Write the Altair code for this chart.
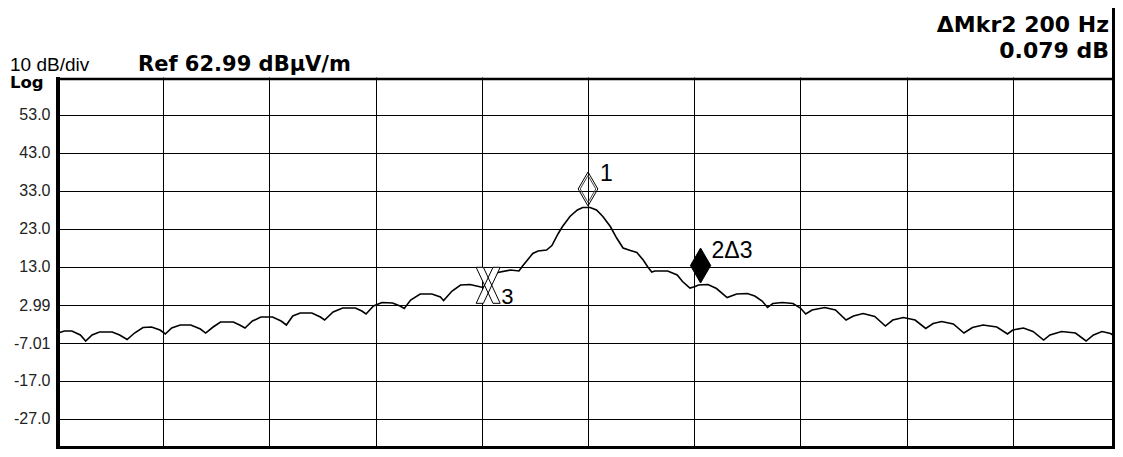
import altair as alt
import pandas as pd

# ---------------- data ----------------
# trace: frequency offset from centre (Hz) and level (dBuV/m)
freq_hz = [
    -499, -493, -486, -478, -473, -467, -460, -448, -441, -434,
    -427, -419, -411, -403, -398, -392, -384, -374, -365, -360,
    -353, -346, -334, -328, -323, -316, -308, -297, -289, -284,
    -278, -271, -260, -252, -248, -240, -231, -219, -213, -209,
    -202, -194, -184, -177, -173, -167, -158, -147, -139, -136,
    -128, -120, -111, -105, -99, -92, -85, -73, -65, -62,
    -57, -52, -47, -39, -34, -28, -24, -17, -10, -5,
    2, 8, 14, 21, 27, 33, 40, 46, 52, 56,
    60, 63, 75, 84, 89, 96, 101, 104, 113, 121,
    131, 140, 150, 157, 164, 169, 174, 183, 193, 200,
    205, 211, 223, 233, 243, 250, 259, 270, 280, 287,
    297, 308, 318, 325, 333, 344, 354, 362, 372, 385,
    395, 400, 410, 419, 429, 435, 446, 459, 469, 476,
    484, 492, 499,
]
level_db = [
    -4.38, -3.85, -3.85, -4.90, -6.48, -4.90, -4.12, -4.12, -4.90, -6.09,
    -4.38, -2.93, -2.80, -3.59, -4.64, -3.06, -2.27, -2.27, -3.33, -4.38,
    -2.80, -1.48, -1.48, -2.27, -3.06, -1.22, -0.17, -0.17, -1.22, -2.27,
    0.10, 0.88, 0.88, -0.17, -0.96, 1.15, 2.20, 2.20, 1.41, 0.62,
    2.73, 3.65, 3.52, 2.73, 2.07, 4.31, 5.88, 5.88, 5.10, 4.17,
    6.67, 8.25, 8.38, 7.99, 7.60, 9.57, 11.54, 12.20, 11.94, 13.12,
    14.83, 16.54, 17.20, 17.46, 18.65, 21.81, 23.65, 26.28, 27.99, 28.65,
    28.65, 27.99, 26.28, 23.65, 20.62, 17.99, 17.33, 16.81, 14.83, 13.12,
    11.67, 11.94, 11.94, 10.88, 9.17, 7.46, 7.86, 8.25, 8.38, 7.33,
    4.96, 5.88, 6.02, 5.36, 4.04, 2.33, 3.38, 3.65, 3.38, 2.20,
    0.62, 1.67, 2.33, 1.67, -0.96, 0.10, 0.75, -0.04, -2.54, -0.96,
    -0.30, -0.96, -3.19, -1.88, -1.35, -2.01, -4.38, -2.93, -2.27, -2.80,
    -4.64, -3.59, -3.06, -3.98, -6.22, -4.90, -3.98, -4.38, -6.48, -4.90,
    -3.98, -4.51, -5.69,
]

# y graticule values and their printed labels
tick_values = [53.0, 43.0, 33.0, 23.0, 13.0, 2.99, -7.01, -17.0, -27.0]
tick_labels = ["53.0", "43.0", "33.0", "23.0", "13.0", "2.99", "-7.01", "-17.0", "-27.0"]
x_grid = [-400, -300, -200, -100, 0, 100, 200, 300, 400]

# markers
marker_freq = [0, 106, -94]
marker_amp = [28.65, 8.25, 8.17]
marker_label = ["1", "2Δ3", "3"]

# annotation texts
scale_text = ["10 dB/div"]
log_text = ["Log"]
ref_text = ["Ref 62.99 dBµV/m"]
delta_freq_text = ["ΔMkr2 200 Hz"]
delta_amp_text = ["0.079 dB"]

# ---------------- chart ----------------
trace_df = pd.DataFrame({"freq": freq_hz, "level": level_db})
marker_df = pd.DataFrame({"freq": marker_freq, "level": marker_amp, "label": marker_label})
one = pd.DataFrame({"k": [0]})

label_expr = "''"
for v, l in reversed(list(zip(tick_values, tick_labels))):
    label_expr = f"datum.value == {v} ? '{l}' : ({label_expr})"

PLOT_W = 1058
PLOT_H = 372

X = alt.X(
    "freq:Q",
    scale=alt.Scale(domain=[-500, 496.23], nice=False, zero=False),
    axis=alt.Axis(values=x_grid, labels=False, ticks=False, domain=False, grid=True,
                  title=None, gridColor="#000000", gridWidth=1, gridOpacity=1),
)
Y = alt.Y(
    "level:Q",
    scale=alt.Scale(domain=[-34.9, 62.99], nice=False, zero=False),
    axis=alt.Axis(values=tick_values, labelExpr=label_expr, ticks=False, domain=False,
                  grid=True, title=None, gridColor="#000000", gridWidth=1, gridOpacity=1,
                  labelFont="Liberation Sans", labelFontSize=16, labelColor="#222222",
                  labelPadding=7, labelAlign="right", labelBaseline="middle",
                  labelOverlap=False),
)

DIAMOND = "M0,-1L0.58,0L0,1L-0.58,0Z"
XSHAPE = "M-0.667,-1L-0.267,-1L0.667,1L0.267,1ZM0.267,-1L0.667,-1L-0.267,1L-0.667,1Z"

trace = alt.Chart(trace_df).mark_line(color="black", strokeWidth=1.6).encode(x=X, y=Y)

m1_outer = alt.Chart(marker_df).transform_filter(alt.datum.label == "1").mark_point(
    shape=DIAMOND, size=1156, filled=False, stroke="black", strokeWidth=1, opacity=1, yOffset=-18.5
).encode(x=X, y=Y)
m1_inner = alt.Chart(marker_df).transform_filter(alt.datum.label == "1").mark_point(
    shape=DIAMOND, size=730, filled=False, stroke="#444444", strokeWidth=1, opacity=1, yOffset=-18.5
).encode(x=X, y=Y)
m2 = alt.Chart(marker_df).transform_filter(alt.datum.label == "2Δ3").mark_point(
    shape=DIAMOND, size=1225, filled=True, fill="black", stroke="black", strokeWidth=1,
    opacity=1, yOffset=-19.5
).encode(x=X, y=Y)
m3 = alt.Chart(marker_df).transform_filter(alt.datum.label == "3").mark_point(
    shape=XSHAPE, size=1296, filled=True, fill="white", stroke="black", strokeWidth=1, opacity=1
).encode(x=X, y=Y)

lab1 = alt.Chart(marker_df).transform_filter(alt.datum.label == "1").mark_text(
    align="left", baseline="alphabetic", dx=12, dy=-26.5, font="Liberation Sans",
    fontSize=23, color="black"
).encode(x=X, y=Y, text="label:N")
lab2 = alt.Chart(marker_df).transform_filter(alt.datum.label == "2Δ3").mark_text(
    align="left", baseline="alphabetic", dx=11, dy=-27, font="Liberation Sans",
    fontSize=23, color="black"
).encode(x=X, y=Y, text="label:N")
lab3 = alt.Chart(marker_df).transform_filter(alt.datum.label == "3").mark_text(
    align="left", baseline="alphabetic", dx=13, dy=18.5, font="Liberation Sans",
    fontSize=22, color="black"
).encode(x=X, y=Y, text="label:N")


def header(texts, x, y, align, font, size, weight):
    return alt.Chart(pd.DataFrame({"t": texts})).mark_text(
        align=align, baseline="alphabetic", font=font, fontSize=size,
        fontWeight=weight, color="black"
    ).encode(x=alt.value(x), y=alt.value(y), text="t:N")


h_scale = header(scale_text, -47, -6.5, "left", "Liberation Sans", 19, "normal")
h_log = header(log_text, -47, 10.5, "left", "DejaVu Sans", 16.5, "bold")
h_ref = header(ref_text, 81, -6.3, "left", "DejaVu Sans", 21, "bold")
h_df = header(delta_freq_text, 1052, -45.5, "right", "DejaVu Sans", 22, "bold")
h_da = header(delta_amp_text, 1052, -19.5, "right", "DejaVu Sans", 22, "bold")

frame_left = alt.Chart(one).mark_rule(color="black", strokeWidth=4).encode(
    x=alt.value(1), y=alt.value(0), y2=alt.value(PLOT_H))
frame_top = alt.Chart(one).mark_rule(color="black", strokeWidth=2.5).encode(
    x=alt.value(0), x2=alt.value(PLOT_W), y=alt.value(2))
frame_bottom = alt.Chart(one).mark_rule(color="black", strokeWidth=3).encode(
    x=alt.value(0), x2=alt.value(PLOT_W), y=alt.value(PLOT_H - 1.5))
frame_right = alt.Chart(one).mark_rule(color="black", strokeWidth=3).encode(
    x=alt.value(PLOT_W - 1.5), y=alt.value(-69), y2=alt.value(PLOT_H))

chart = alt.layer(
    trace, m1_outer, m1_inner, m2, m3, lab1, lab2, lab3,
    h_scale, h_log, h_ref, h_df, h_da,
    frame_left, frame_top, frame_bottom, frame_right,
).properties(
    width=PLOT_W,
    height=PLOT_H,
    autosize=alt.AutoSizeParams(type="none"),
    padding={"left": 49, "top": 69, "right": 0, "bottom": 0},
    background="white",
).configure_view(stroke=None)

chart.save("out.html", embed_options={"renderer": "svg", "actions": False})
